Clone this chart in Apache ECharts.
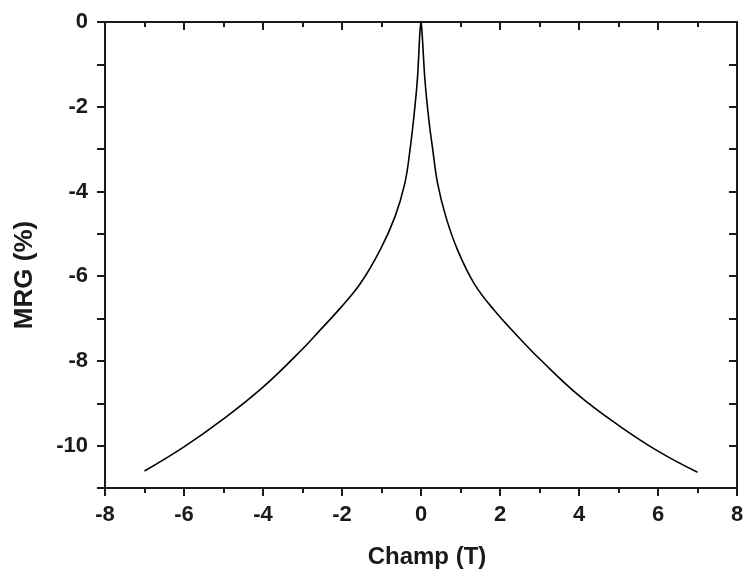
<!DOCTYPE html>
<html>
<head>
<meta charset="utf-8">
<script src="https://cdn.jsdelivr.net/npm/echarts@6/dist/echarts.min.js"></script>
<style>html,body{margin:0;padding:0;background:#fff}#c{width:748px;height:577px}</style>
</head>
<body>
<div id="c"></div>
<script>
var fieldT = [-7.0, -6.0, -5.0, -4.0, -3.0, -2.56, -2.05, -1.54, -1.04, -0.66, -0.41, -0.28, -0.19, -0.09, -0.03, 0.0,
              0.03, 0.1, 0.2, 0.3, 0.42, 0.63, 0.93, 1.35, 1.86, 2.53, 3.0, 4.0, 5.0, 6.0, 7.0];
var mrgPct = [-10.6, -10.03, -9.37, -8.62, -7.72, -7.28, -6.76, -6.18, -5.39, -4.6, -3.81, -3.03, -2.32, -1.33, -0.27, 0.0,
              -0.3, -1.37, -2.32, -3.03, -3.81, -4.6, -5.39, -6.18, -6.81, -7.5, -7.95, -8.82, -9.52, -10.13, -10.63];
var xTicks = [-8, -6, -4, -2, 0, 2, 4, 6, 8];
var yTicks = [0, -2, -4, -6, -8, -10];

var pts = fieldT.map(function (x, i) { return [x, mrgPct[i]]; });
var FONT = '"Liberation Sans", Arial, sans-serif';
var INK = '#1a1a1a';

var chart = echarts.init(document.getElementById('c'), null, {renderer: 'canvas'});
chart.setOption({
  animation: false,
  backgroundColor: '#fff',
  grid: {left: 105, right: 11, top: 22, bottom: 89},
  xAxis: [{
    type: 'value', min: -8, max: 8, interval: 2, position: 'bottom',
    name: 'Champ (T)', nameLocation: 'middle', nameGap: 57,
    nameTextStyle: {fontFamily: FONT, fontWeight: 'bold', fontSize: 24, color: INK, padding: [0, 0, 0, 12]},
    axisLine: {show: true, onZero: false, lineStyle: {color: INK, width: 2}},
    axisTick: {show: true, inside: false, length: 8, lineStyle: {color: INK, width: 2}},
    minorTick: {show: true, splitNumber: 2, length: 5, lineStyle: {color: INK, width: 2}},
    axisLabel: {fontFamily: FONT, fontWeight: 'bold', fontSize: 22, color: INK, margin: 16,
      formatter: function (v) { return xTicks.indexOf(v) >= 0 ? String(v) : ''; }},
    splitLine: {show: false}
  }, {
    type: 'value', min: -8, max: 8, interval: 2, position: 'top',
    axisLine: {show: true, onZero: false, lineStyle: {color: INK, width: 2}},
    axisTick: {show: true, inside: true, length: 8, lineStyle: {color: INK, width: 2}},
    minorTick: {show: true, splitNumber: 2, length: 5, lineStyle: {color: INK, width: 2}},
    axisLabel: {show: false}, splitLine: {show: false}
  }],
  yAxis: [{
    type: 'value', min: -11, max: 0, interval: 1, position: 'left',
    name: 'MRG (%)', nameLocation: 'middle', nameGap: 67,
    nameTextStyle: {fontFamily: FONT, fontWeight: 'bold', fontSize: 26, color: INK, padding: [0, 40, 0, 0]},
    axisLine: {show: true, onZero: false, lineStyle: {color: INK, width: 2}},
    axisTick: {show: true, inside: false, length: 8, lineStyle: {color: INK, width: 2}},
    axisLabel: {fontFamily: FONT, fontWeight: 'bold', fontSize: 22, color: INK, margin: 17,
      formatter: function (v) { return yTicks.indexOf(v) >= 0 ? String(v) : ''; }},
    splitLine: {show: false}
  }, {
    type: 'value', min: -11, max: 0, interval: 1, position: 'right',
    axisLine: {show: true, onZero: false, lineStyle: {color: INK, width: 2}},
    axisTick: {show: true, inside: true, length: 8, lineStyle: {color: INK, width: 2}},
    axisLabel: {show: false}, splitLine: {show: false}
  }],
  series: [{
    type: 'line', xAxisIndex: 0, yAxisIndex: 0, data: pts,
    smooth: 0.4, showSymbol: false, symbol: 'none',
    lineStyle: {color: '#000', width: 1.6}
  }]
});
</script>
</body>
</html>
